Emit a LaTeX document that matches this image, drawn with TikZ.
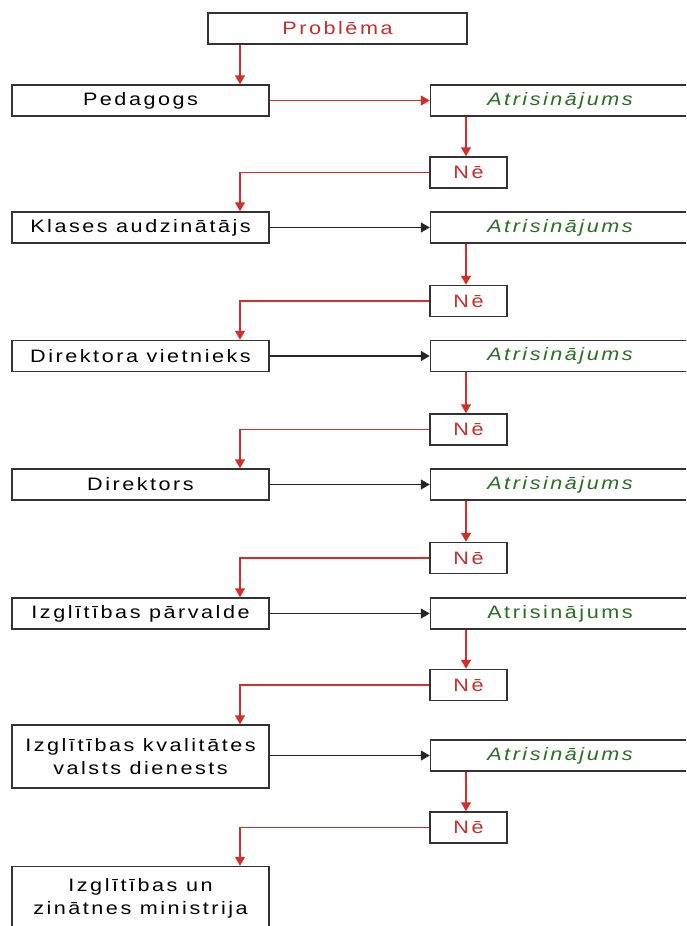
\documentclass[tikz,border=0pt]{standalone}
\usepackage{fontspec}
\setmainfont{Liberation Sans}[FakeStretch=1.2,LetterSpace=14]
\usetikzlibrary{arrows.meta}
\definecolor{redline}{RGB}{215,45,40}
\definecolor{redtext}{RGB}{200,45,45}
\definecolor{greentext}{RGB}{40,110,35}
\begin{document}
\begin{tikzpicture}[x=1pt,y=-1pt,
  box/.style={draw=black!80,line width=1.5pt,fill=white,inner sep=0pt,align=center,
    font=\fontsize{18}{23}\selectfont},
  leftbox/.style={box,minimum width=257,minimum height=31},
  solbox/.style={box,minimum width=259,minimum height=31,text=greentext,font=\fontsize{18}{23}\selectfont\itshape},
  nobox/.style={box,minimum width=77,minimum height=31,text=redtext},
  redarr/.style={draw=redline,line width=1.4pt,-{Triangle[length=9pt,width=10pt]}},
  blkarr/.style={draw=black!85,line width=1.4pt,-{Triangle[length=9pt,width=10pt]}}]
\useasboundingbox (0,0) rectangle (686,926);
\clip (0,0) rectangle (686,926);
\fill[white] (0,0) rectangle (686,926);
% nodes
\node[box,minimum width=259,minimum height=31,text=redtext] (prob) at (337.5,28.5) {Problēma};
\node[leftbox] (l1) at (140.5,100.5) {Pedagogs};
\node[solbox] (s1) at (560,100.5) {Atrisinājums};
\node[nobox] (n1) at (468.5,172.5) {Nē};
\node[leftbox] (l2) at (140.5,227.5) {Klases audzinātājs};
\node[solbox] (s2) at (560,227.5) {Atrisinājums};
\node[nobox] (n2) at (468.5,301) {Nē};
\node[leftbox] (l3) at (140.5,356) {Direktora vietnieks};
\node[solbox] (s3) at (560,356) {Atrisinājums};
\node[nobox] (n3) at (468.5,429.5) {Nē};
\node[leftbox] (l4) at (140.5,484.5) {Direktors};
\node[solbox] (s4) at (560,484.5) {Atrisinājums};
\node[nobox] (n4) at (468.5,558) {Nē};
\node[leftbox] (l5) at (140.5,613.5) {Izglītības pārvalde};
\node[solbox,font=\fontsize{18}{23}\selectfont] (s5) at (560,613.5) {Atrisinājums};
\node[nobox] (n5) at (468.5,685) {Nē};
\node[leftbox,minimum height=63] (l6) at (140.5,756.5) {Izglītības kvalitātes\\valsts dienests};
\node[solbox] (s6) at (560,755.5) {Atrisinājums};
\node[nobox] (n6) at (468.5,827.5) {Nē};
\node[leftbox,minimum height=63] (l7) at (140.5,898) {Izglītības un\\zinātnes ministrija};
% connectors
\draw[redarr] (prob.south -| 240,0) -- (l1.north -| 240,0);
\draw[redarr] (l1.east) -- (s1.west);
\draw[blkarr] (l2.east) -- (s2.west);
\draw[blkarr] (l3.east) -- (s3.west);
\draw[blkarr] (l4.east) -- (s4.west);
\draw[blkarr] (l5.east) -- (s5.west);
\draw[blkarr] (l6.east |- s6.west) -- (s6.west);
\draw[redarr] (s1.south -| 466,0) -- (n1.north -| 466,0);
\draw[redarr] (s2.south -| 466,0) -- (n2.north -| 466,0);
\draw[redarr] (s3.south -| 466,0) -- (n3.north -| 466,0);
\draw[redarr] (s4.south -| 466,0) -- (n4.north -| 466,0);
\draw[redarr] (s5.south -| 466,0) -- (n5.north -| 466,0);
\draw[redarr] (s6.south -| 466,0) -- (n6.north -| 466,0);
\draw[redarr] (n1.west) -| (l2.north -| 240,0);
\draw[redarr] (n2.west) -| (l3.north -| 240,0);
\draw[redarr] (n3.west) -| (l4.north -| 240,0);
\draw[redarr] (n4.west) -| (l5.north -| 240,0);
\draw[redarr] (n5.west) -| (l6.north -| 240,0);
\draw[redarr] (n6.west) -| (l7.north -| 240,0);
\end{tikzpicture}
\end{document}
